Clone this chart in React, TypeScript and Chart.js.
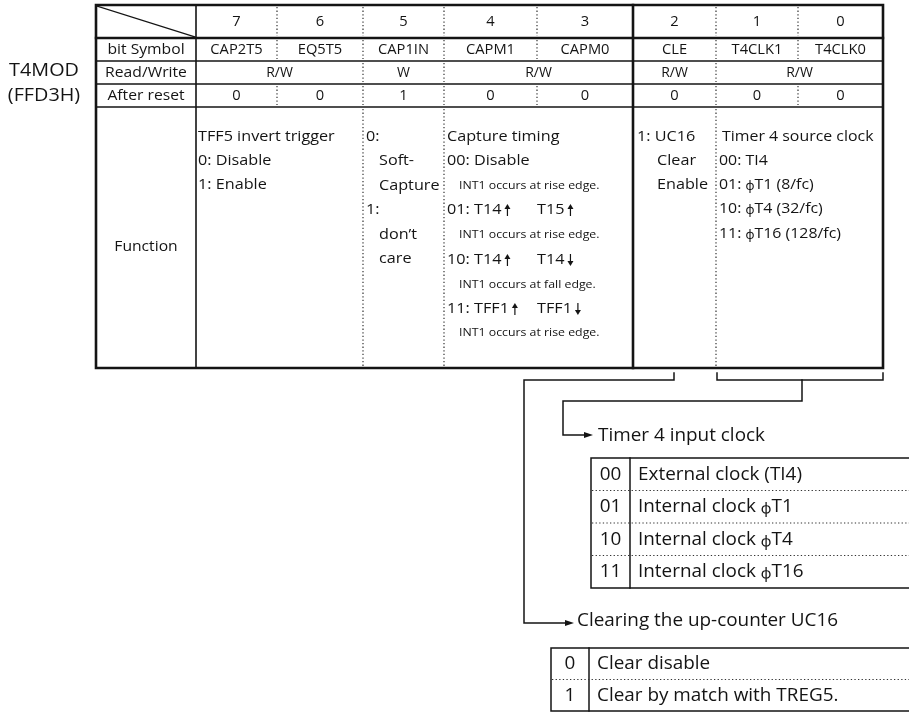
import React, { useEffect, useRef } from "react";
import { Chart, registerables } from "chart.js";

Chart.register(...registerables);

// ---------------- data ----------------
const registerName = ["T4MOD", "(FFD3H)"];
const bitNumbers = ["7", "6", "5", "4", "3", "2", "1", "0"];
const bitSymbols = ["CAP2T5", "EQ5T5", "CAP1IN", "CAPM1", "CAPM0", "CLE", "T4CLK1", "T4CLK0"];
const rowLabels = ["bit Symbol", "Read/Write", "After reset", "Function"];
const rwLabels = ["R/W", "W", "R/W", "R/W", "R/W"];
const rwFirstBit = [0, 2, 3, 5, 6];
const rwSpan = [2, 1, 2, 1, 2];
const afterReset = ["0", "0", "1", "0", "0", "0", "0", "0"];
const funcBit76 = ["TFF5 invert trigger", "0: Disable", "1: Enable"];
const funcBit5 = ["0:", "Soft-", "Capture", "1:", "don’t", "care"];
const funcBit43 = [
  "Capture timing",
  "00: Disable",
  "INT1 occurs at rise edge.",
  "01: T14↑",
  "INT1 occurs at rise edge.",
  "10: T14↑",
  "INT1 occurs at fall edge.",
  "11: TFF1↑",
  "INT1 occurs at rise edge.",
];
const funcBit43Second = ["", "", "", "T15↑", "", "T14↓", "", "TFF1↓", ""];
const funcBit2 = ["1: UC16", "Clear", "Enable"];
const funcBit10 = ["Timer 4 source clock", "00: TI4", "01: ϕT1 (8/fc)", "10: ϕT4 (32/fc)", "11: ϕT16 (128/fc)"];
const clockTitle = "Timer 4 input clock";
const clockCodes = ["00", "01", "10", "11"];
const clockNames = ["External clock (TI4)", "Internal clock ϕT1", "Internal clock ϕT4", "Internal clock ϕT16"];
const clearTitle = "Clearing the up-counter UC16";
const clearCodes = ["0", "1"];
const clearNames = ["Clear disable", "Clear by match with TREG5."];

// ---------------- layout (drawing units = scale values) ----------------
const W = 909;
const H = 715;
const colX = [96, 196, 277, 363, 444, 537, 633, 716, 798, 883];
const rowY = [5, 38, 61, 84, 107, 368];
const FONT = '"Open Sans", "Noto Sans", "DejaVu Sans", sans-serif';
const INK = "#141414";

function drawDiagram(chart: any) {
  const ctx: CanvasRenderingContext2D = chart.ctx;
  const sx = chart.scales.x;
  const sy = chart.scales.y;
  const X = (v: number) => sx.getPixelForValue(v);
  const Y = (v: number) => sy.getPixelForValue(v);

  const line = (pts: number[][], w: number, dotted = false) => {
    ctx.save();
    ctx.strokeStyle = dotted ? "#333" : INK;
    ctx.lineWidth = w;
    ctx.lineCap = dotted ? "butt" : "square";
    ctx.lineJoin = "miter";
    if (dotted) ctx.setLineDash([1.3, 2.3]);
    ctx.beginPath();
    pts.forEach((p, i) => (i === 0 ? ctx.moveTo(X(p[0]), Y(p[1])) : ctx.lineTo(X(p[0]), Y(p[1]))));
    ctx.stroke();
    ctx.restore();
  };

  const vArrow = (px: number, py: number, up: boolean) => {
    const top = py - 6;
    const bot = py + 6;
    ctx.save();
    ctx.strokeStyle = INK;
    ctx.fillStyle = INK;
    ctx.lineWidth = 1.2;
    ctx.beginPath();
    ctx.moveTo(px, up ? top + 3 : top);
    ctx.lineTo(px, up ? bot : bot - 3);
    ctx.stroke();
    ctx.beginPath();
    if (up) {
      ctx.moveTo(px, top);
      ctx.lineTo(px - 3, top + 5);
      ctx.lineTo(px + 3, top + 5);
    } else {
      ctx.moveTo(px, bot);
      ctx.lineTo(px - 3, bot - 5);
      ctx.lineTo(px + 3, bot - 5);
    }
    ctx.closePath();
    ctx.fill();
    ctx.restore();
  };

  // rich text: handles ↑ ↓ as drawn arrows and ϕ as a small glyph
  const text = (s: string, x: number, y: number, size: number, align: CanvasTextAlign = "left", stretch = 1.1) => {
    ctx.save();
    ctx.fillStyle = INK;
    ctx.textBaseline = "middle";
    ctx.textAlign = "left";
    const segs: { t: string; kind: string }[] = [];
    let buf = "";
    for (const ch of s) {
      if (ch === "↑" || ch === "↓" || ch === "ϕ") {
        if (buf) segs.push({ t: buf, kind: "txt" });
        buf = "";
        segs.push({ t: ch, kind: ch === "ϕ" ? "phi" : "arrow" });
      } else buf += ch;
    }
    if (buf) segs.push({ t: buf, kind: "txt" });
    const widthOf = (sg: { t: string; kind: string }) => {
      if (sg.kind === "arrow") return 11;
      ctx.font = `${sg.kind === "phi" ? size * 0.78 : size}px ${FONT}`;
      return ctx.measureText(sg.t).width * stretch;
    };
    const total = segs.reduce((a, sg) => a + widthOf(sg), 0);
    let cx = X(x);
    if (align === "center") cx -= total / 2;
    if (align === "right") cx -= total;
    const cy = Y(y);
    for (const sg of segs) {
      const w = widthOf(sg);
      if (sg.kind === "arrow") {
        vArrow(cx + 6, cy, sg.t === "↑");
      } else {
        ctx.font = `${sg.kind === "phi" ? size * 0.78 : size}px ${FONT}`;
        ctx.save();
        ctx.translate(cx, cy + (sg.kind === "phi" ? size * 0.12 : 0));
        ctx.scale(stretch, 1);
        ctx.fillText(sg.t, 0, 0);
        ctx.restore();
      }
      cx += w;
    }
    ctx.restore();
  };
  const arrow = (x: number, y: number) => {
    ctx.save();
    ctx.fillStyle = INK;
    ctx.beginPath();
    ctx.moveTo(X(x), Y(y));
    ctx.lineTo(X(x - 9), Y(y - 3));
    ctx.lineTo(X(x - 9), Y(y + 3));
    ctx.closePath();
    ctx.fill();
    ctx.restore();
  };

  ctx.save();
  ctx.fillStyle = "#fff";
  ctx.fillRect(0, 0, chart.width, chart.height);
  ctx.restore();

  const L = colX[0];
  const R = colX[colX.length - 1];
  const T = rowY[0];
  const B = rowY[rowY.length - 1];
  const bitL = (i: number) => colX[i + 1];
  const bitR = (i: number) => colX[i + 2];

  // register name
  text(registerName[0], 44, 71, 18, "center", 1.1);
  text(registerName[1], 44, 96, 18, "center", 1.1);

  // horizontal lines
  line([[L, rowY[2]], [R, rowY[2]]], 1.4);
  line([[L, rowY[3]], [R, rowY[3]]], 1.4);
  line([[L, rowY[4]], [R, rowY[4]]], 1.4);
  line([[L, rowY[1]], [R, rowY[1]]], 2.4);
  // label column divider
  line([[colX[1], T], [colX[1], B]], 1.6);
  // thick divider between bit 3 and bit 2
  line([[colX[6], T], [colX[6], B]], 2.6);
  // diagonal
  line([[L + 1, T + 1], [colX[1] - 1, rowY[1] - 1]], 1.2);

  // dotted separators per row
  const allSeps = [2, 3, 4, 5, 7, 8];
  const dottedPerRow = [allSeps, allSeps, [3, 4, 7], allSeps, [3, 4, 7]];
  dottedPerRow.forEach((seps, r) => {
    seps.forEach((c) => line([[colX[c], rowY[r] + 2], [colX[c], rowY[r + 1] - 2]], 1.2, true));
  });

  // outer border
  line([[L, T], [R, T], [R, B], [L, B], [L, T]], 2.6);

  // header numbers, symbols, reset
  bitNumbers.forEach((b, i) => text(b, (bitL(i) + bitR(i)) / 2, (rowY[0] + rowY[1]) / 2 + 0.5, 14, "center", 1.05));
  bitSymbols.forEach((b, i) => text(b, (bitL(i) + bitR(i)) / 2, (rowY[1] + rowY[2]) / 2 + 1, 14, "center", 1.05));
  rwLabels.forEach((s, k) => {
    const a = rwFirstBit[k];
    const e = a + rwSpan[k] - 1;
    text(s, (bitL(a) + bitR(e)) / 2, (rowY[2] + rowY[3]) / 2 + 1, 14, "center", 1.0);
  });
  afterReset.forEach((b, i) => text(b, (bitL(i) + bitR(i)) / 2, (rowY[3] + rowY[4]) / 2 + 1, 14, "center", 1.05));

  // row labels
  rowLabels.forEach((s, r) => {
    const cy = r < 3 ? (rowY[r + 1] + rowY[r + 2]) / 2 + 1 : 247;
    text(s, (colX[0] + colX[1]) / 2, cy, 14, "center", 1.12);
  });

  // function row
  const y76 = [137, 161, 185];
  funcBit76.forEach((s, i) => text(s, 198, y76[i], 15, "left", 1.08));
  const y5 = [137, 161, 186, 210, 235, 259];
  funcBit5.forEach((s, i) => text(s, s.endsWith(":") ? 366 : 379, y5[i], 15, "left", 1.08));
  const y43 = [137, 161, 186, 210, 235, 260, 285, 309, 333];
  funcBit43.forEach((s, i) => {
    const small = s.startsWith("INT1");
    text(s, small ? 459 : 447, y43[i], small ? 11 : 15, "left", small ? 1.12 : 1.08);
    if (funcBit43Second[i]) text(funcBit43Second[i], 537, y43[i], 15, "left", 1.08);
  });
  const y2 = [137, 161, 185];
  funcBit2.forEach((s, i) => text(s, i === 0 ? 637 : 657, y2[i], 15, "left", 1.08));
  const y10 = [137, 161, 185, 209, 234];
  funcBit10.forEach((s, i) => text(s, i === 0 ? 722 : 719, y10[i], 15, "left", 1.06));

  // brackets
  line([[674, 373], [674, 380], [524, 380], [524, 623], [566, 623]], 1.5);
  arrow(574, 623);
  line([[717, 373], [717, 380], [883, 380], [883, 373]], 1.5);
  line([[802, 380], [802, 401], [563, 401], [563, 435], [585, 435]], 1.5);
  arrow(593, 435);

  // Timer 4 input clock table
  text(clockTitle, 598, 436, 18, "left", 1.05);
  const cTop = 458;
  const cRow = 32.5;
  const cL = 591;
  const cDiv = 630;
  line([[W, cTop], [cL, cTop], [cL, cTop + cRow * clockCodes.length], [W, cTop + cRow * clockCodes.length]], 1.5);
  line([[cDiv, cTop], [cDiv, cTop + cRow * clockCodes.length]], 1.5);
  clockCodes.forEach((c, i) => {
    const cy = cTop + cRow * (i + 0.5) + 0.5;
    text(c, (cL + cDiv) / 2, cy, 18, "center", 1.05);
    text(clockNames[i], 638, cy, 18, "left", 1.05);
    if (i > 0) line([[cL + 1, cTop + cRow * i], [W, cTop + cRow * i]], 1.2, true);
  });

  // Clearing table
  text(clearTitle, 577, 621, 18, "left", 1.05);
  const kTop = 648;
  const kRow = 31.5;
  const kL = 551;
  const kDiv = 589;
  line([[W, kTop], [kL, kTop], [kL, kTop + kRow * clearCodes.length], [W, kTop + kRow * clearCodes.length]], 1.5);
  line([[kDiv, kTop], [kDiv, kTop + kRow * clearCodes.length]], 1.5);
  clearCodes.forEach((c, i) => {
    const cy = kTop + kRow * (i + 0.5) + 0.5;
    text(c, (kL + kDiv) / 2, cy, 18, "center", 1.05);
    text(clearNames[i], 597, cy, 18, "left", 1.05);
    if (i > 0) line([[kL + 1, kTop + kRow * i], [W, kTop + kRow * i]], 1.2, true);
  });
}

export default function App() {
  const ref = useRef<HTMLCanvasElement | null>(null);
  useEffect(() => {
    if (!ref.current) return;
    const chart = new Chart(ref.current, {
      type: "scatter",
      data: { datasets: [{ data: [], pointRadius: 0 }] },
      options: {
        animation: false,
        responsive: false,
        maintainAspectRatio: false,
        devicePixelRatio: 1,
        layout: { padding: 0 },
        events: [],
        scales: {
          x: { type: "linear", min: 0, max: W, display: false },
          y: { type: "linear", min: 0, max: H, reverse: true, display: false },
        },
        plugins: { legend: { display: false }, tooltip: { enabled: false }, title: { display: false } },
      },
      plugins: [{ id: "registerDiagram", afterDraw: (c: any) => drawDiagram(c) }],
    } as any);
    return () => chart.destroy();
  }, []);
  return (
    <div style={{ position: "fixed", left: 0, top: 0, width: W, height: H, background: "#fff" }}>
      <canvas ref={ref} width={W} height={H} style={{ display: "block", width: W, height: H }} />
    </div>
  );
}
